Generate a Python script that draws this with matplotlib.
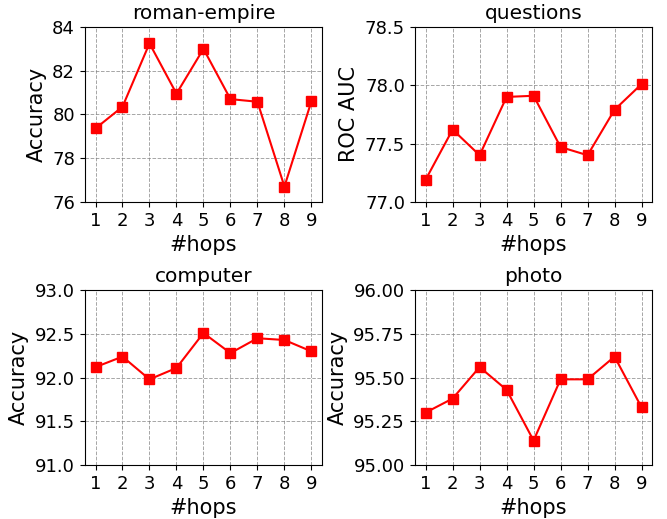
import matplotlib
matplotlib.use("Agg")
import matplotlib.pyplot as plt

hops = [1, 2, 3, 4, 5, 6, 7, 8, 9]

roman_empire = [79.36, 80.35, 83.25, 80.95, 83.0, 80.70, 80.58, 76.70, 80.6]
questions = [77.19, 77.62, 77.40, 77.90, 77.91, 77.47, 77.40, 77.79, 78.01]
computer = [92.12, 92.24, 91.98, 92.11, 92.51, 92.28, 92.45, 92.43, 92.30]
photo = [95.30, 95.38, 95.56, 95.43, 95.14, 95.49, 95.49, 95.62, 95.33]

panels = [
    ("roman-empire", roman_empire, "Accuracy", (76, 84), [76, 78, 80, 82, 84]),
    ("questions", questions, "ROC AUC", (77.0, 78.5), [77.0, 77.5, 78.0, 78.5]),
    ("computer", computer, "Accuracy", (91.0, 93.0), [91.0, 91.5, 92.0, 92.5, 93.0]),
    ("photo", photo, "Accuracy", (95.0, 96.0), [95.0, 95.25, 95.5, 95.75, 96.0]),
]

plt.rcParams["font.size"] = 13

fig, axes = plt.subplots(2, 2, figsize=(6.67, 5.19), dpi=100)
for ax, (name, vals, ylab, ylim, yt) in zip(axes.flat, panels):
    ax.plot(hops, vals, color="red", marker="s", markersize=7, linewidth=1.5)
    ax.set_title(name, fontsize=14.5)
    ax.set_xlabel("#hops", fontsize=15)
    ax.set_ylabel(ylab, fontsize=15)
    ax.set_ylim(*ylim)
    ax.set_yticks(yt)
    ax.set_xticks(hops)
    ax.set_xlim(0.6, 9.4)
    ax.grid(True, linestyle="--", color="gray", alpha=0.7, linewidth=0.7)

plt.subplots_adjust(left=0.127, right=0.978, top=0.948, bottom=0.104, wspace=0.39, hspace=0.505)
fig.savefig("out.png", dpi=100)
